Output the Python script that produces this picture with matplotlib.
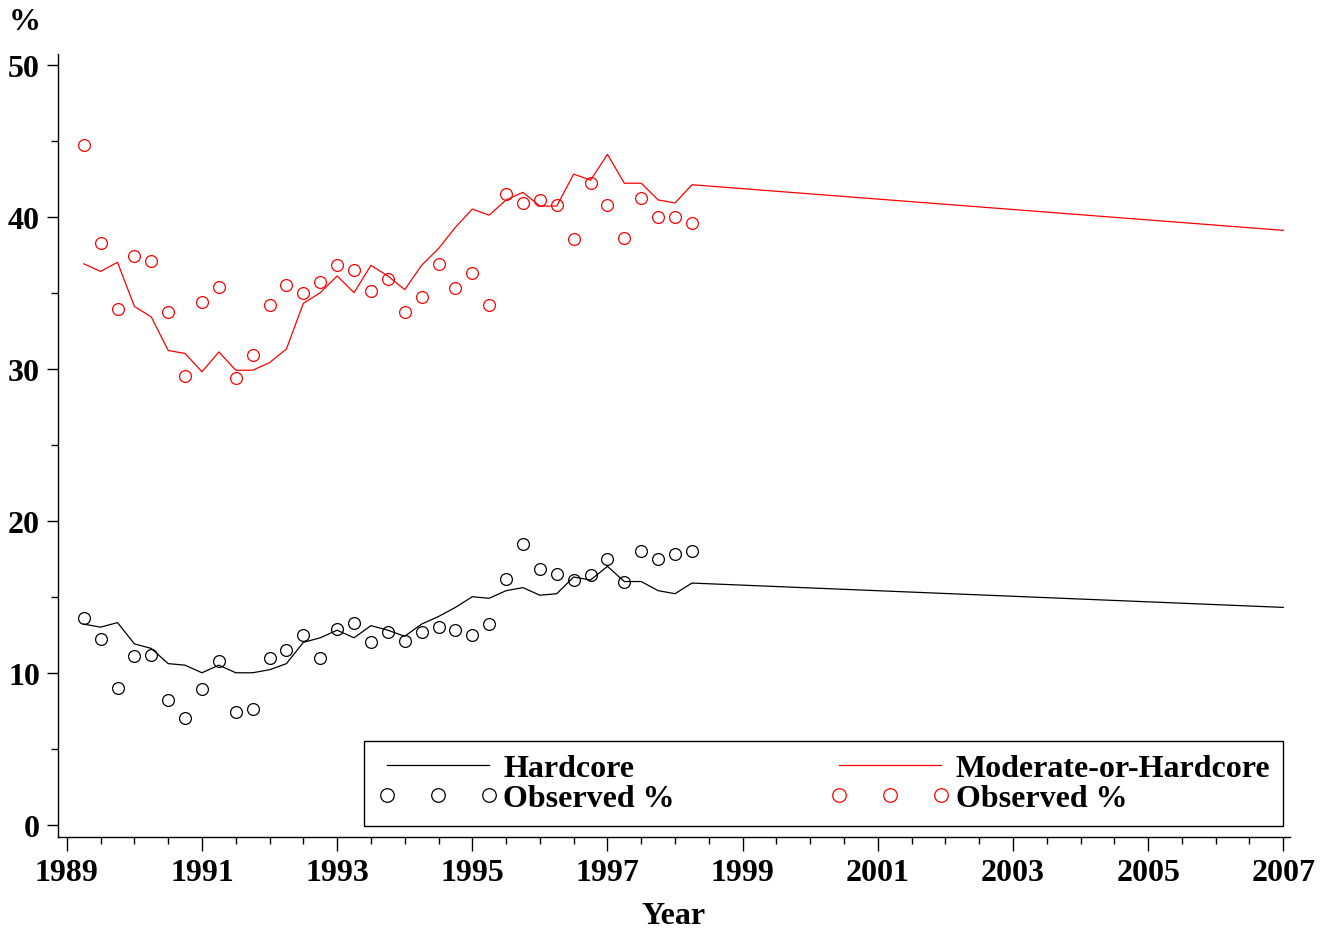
import numpy as np
import matplotlib.pyplot as plt

plt.rcParams['font.family'] = ['Liberation Serif', 'DejaVu Serif']
plt.rcParams['font.weight'] = 'bold'

# quarterly survey periods, 1989 Q2 .. 1998 Q2
quarters = 1989.25 + 0.25 * np.arange(37)

# observed percentages
hard_obs = [13.6, 12.2, 9.0, 11.1, 11.2, 8.2, 7.0, 8.9, 10.8, 7.4,
            7.6, 11.0, 11.5, 12.5, 11.0, 12.9, 13.3, 12.0, 12.7, 12.1,
            12.7, 13.0, 12.8, 12.5, 13.2, 16.2, 18.5, 16.8, 16.5, 16.1,
            16.4, 17.5, 16.0, 18.0, 17.5, 17.8, 18.0]
mod_obs = [44.7, 38.3, 33.9, 37.4, 37.1, 33.7, 29.5, 34.4, 35.4, 29.4,
           30.9, 34.2, 35.5, 35.0, 35.7, 36.8, 36.5, 35.1, 35.9, 33.7,
           34.7, 36.9, 35.3, 36.3, 34.2, 41.5, 40.9, 41.1, 40.8, 38.5,
           42.2, 40.8, 38.6, 41.2, 40.0, 40.0, 39.6]

# fitted model, extended to 2007
fit_years = list(quarters) + [2007.0]
hard_fit = [13.2, 13.0, 13.3, 11.9, 11.6, 10.6, 10.5, 10.0, 10.5, 10.0,
            10.0, 10.2, 10.6, 12.0, 12.3, 12.8, 12.3, 13.1, 12.8, 12.4,
            13.2, 13.7, 14.3, 15.0, 14.9, 15.4, 15.6, 15.1, 15.2, 16.3,
            16.1, 17.0, 16.0, 16.0, 15.4, 15.2, 15.9, 14.3]
mod_fit = [36.9, 36.4, 37.0, 34.1, 33.4, 31.2, 31.0, 29.8, 31.1, 29.9,
           29.9, 30.4, 31.3, 34.3, 35.0, 36.1, 35.0, 36.8, 36.1, 35.2,
           36.8, 37.9, 39.3, 40.5, 40.1, 41.1, 41.6, 40.7, 40.7, 42.8,
           42.4, 44.1, 42.2, 42.2, 41.1, 40.9, 42.1, 39.1]

fig = plt.figure(figsize=(13.31, 9.29), dpi=100)
ax = fig.add_axes([0.0436, 0.098, 0.9256, 0.8428])

l1, = ax.plot(fit_years, hard_fit, color='k', lw=0.9)
o1, = ax.plot(quarters, hard_obs, 'o', mfc='none', mec='k', ms=8.5, mew=0.9)
l2, = ax.plot(fit_years, mod_fit, color='red', lw=0.9)
o2, = ax.plot(quarters, mod_obs, 'o', mfc='none', mec='red', ms=8.5, mew=0.9)

ax.set_xlim(1988.87, 2007.1)
ax.set_ylim(-0.8, 50.7)
ax.set_xticks(np.arange(1989, 2008, 2))
ax.set_xticks(np.arange(1989, 2007.1, 0.5), minor=True)
ax.set_yticks(np.arange(0, 51, 10))
ax.set_yticks(np.arange(0, 51, 5), minor=True)
ax.tick_params(which='major', length=8, width=1, labelsize=23, direction='out')
ax.tick_params(which='minor', length=5, width=1, direction='out')
ax.tick_params(axis='x', which='major', length=10, pad=5)
ax.tick_params(axis='y', which='major', pad=5)
for s in ['top', 'right']:
    ax.spines[s].set_visible(False)
for s in ['left', 'bottom']:
    ax.spines[s].set_linewidth(1)

ax.set_xlabel('Year', fontsize=23, fontweight='bold', labelpad=10)
fig.text(25 / 1331, 1 - 23 / 929, '%', fontsize=23, fontweight='bold',
         ha='center', va='center')

leg = ax.legend([l1, o1, l2, o2],
                ['Hardcore', 'Observed %', 'Moderate-or-Hardcore', 'Observed %'],
                ncol=2, loc='lower left', mode='expand',
                bbox_to_anchor=(1993.4, -0.05, 2007 - 1993.4, 5.5),
                bbox_transform=ax.transData, numpoints=3,
                handlelength=3.8, handletextpad=0.15, fontsize=23,
                markerscale=1.15, fancybox=False, edgecolor='k',
                framealpha=1, borderaxespad=0, borderpad=0.4,
                labelspacing=0.0)
leg.get_frame().set_linewidth(1)

fig.savefig('out.png', dpi=100)
